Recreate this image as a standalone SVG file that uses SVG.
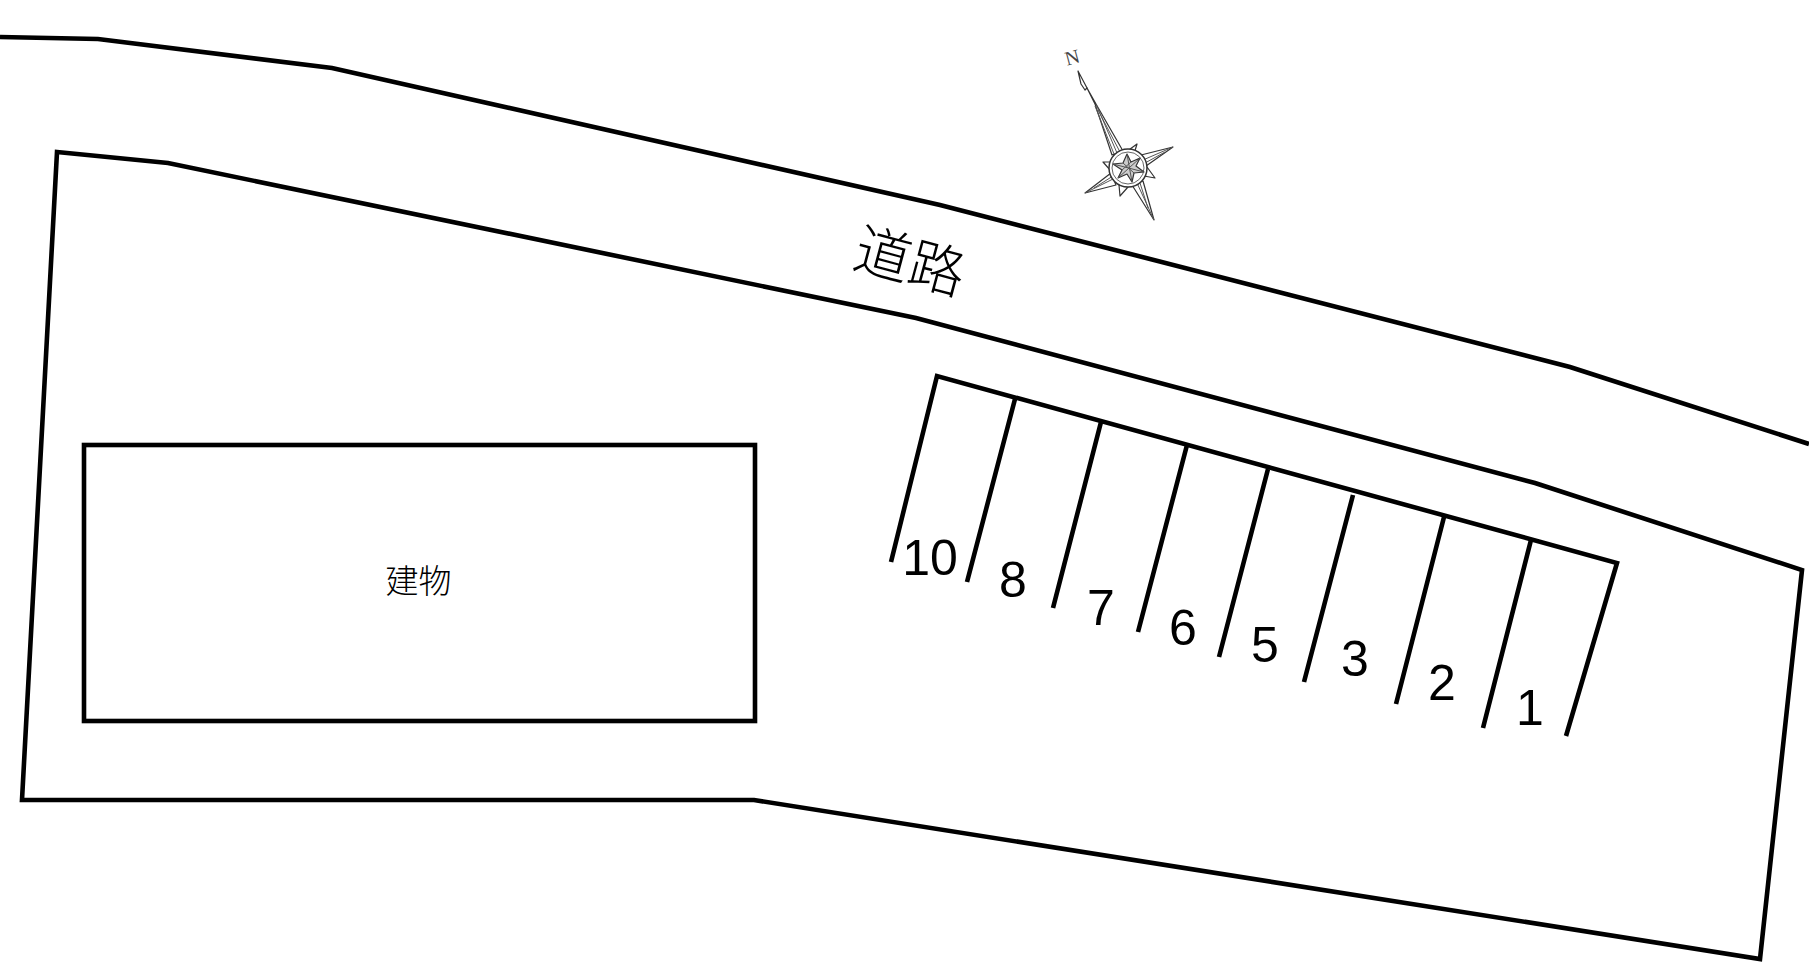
<svg xmlns="http://www.w3.org/2000/svg" width="1809" height="980" viewBox="0 0 1809 980">
<style>
.l{fill:none;stroke:#000;stroke-width:4.6}
.n{font-family:"Liberation Sans",Arial,sans-serif;font-size:50px;text-anchor:middle;fill:#000}
.j{font-family:"Noto Sans CJK JP","Noto Sans CJK SC",sans-serif;text-anchor:middle;fill:#000;font-weight:300}
.c{fill:#fff;stroke:#333;stroke-width:1.2;stroke-linejoin:round}
.d{fill:none;stroke:#555;stroke-width:1}
</style>
<rect width="1809" height="980" fill="#fff"/>
<g id="road"><polyline class="l" points="0,37 98,39 332,68 940,205 1570,367 1809,444"/></g>
<g id="site"><polygon class="l" points="57,152 168,163 916,318 1535,483 1802,570 1760,959 754,800 22,800"/></g>
<g id="building"><rect class="l" x="84" y="445" width="671" height="276"/><text class="j" x="418.500" y="593" font-size="33">建物</text></g>
<g id="road-label"><text class="j" font-size="56" transform="translate(905 281) rotate(15)">道路</text></g>
<g id="parking">
<polyline class="l" points="891,562 937,376 1617,563 1566,736"/>
<path class="l" d="M1015,399L967,582M1101,422L1053,608M1187,445L1138,632M1268,469L1219,657M1353,495L1304,682M1444,517L1396,704M1531,540L1483,728"/>
<text class="n" x="930" y="575">10</text>
<text class="n" x="1013" y="597">8</text>
<text class="n" x="1101" y="625">7</text>
<text class="n" x="1183" y="645">6</text>
<text class="n" x="1265" y="662">5</text>
<text class="n" x="1355" y="676">3</text>
<text class="n" x="1442" y="700">2</text>
<text class="n" x="1530" y="725">1</text>
</g>
<g id="compass">
<text font-family="Liberation Serif,serif" font-size="20" text-anchor="middle" fill="#444" transform="translate(1074 64) rotate(-15)">N</text>
<path class="c" d="M1078,71L1087,88L1085,90L1081,84Z"/>
<path class="c" d="M1087,88L1096,104L1123,151L1112,155L1095,104Z"/>
<path class="d" d="M1096,104L1117,153M1098,110L1120,152M1095,106L1114,154"/>
<path class="c" d="M1173,147L1146,166L1141,155Z"/>
<path class="d" d="M1173,147L1143,160M1165,152L1145,163"/>
<path class="c" d="M1085,193L1111,173L1116,185Z"/>
<path class="d" d="M1085,193L1113,179M1094,188L1113,176"/>
<path class="c" d="M1154,220L1132,185L1143,181Z"/>
<path class="d" d="M1154,220L1137,183M1148,208L1140,183"/>
<path class="c" d="M1137,144L1134,154L1126,152Z"/>
<path class="c" d="M1155,178L1144,176L1147,167Z"/>
<path class="c" d="M1120,196L1119,185L1128,187Z"/>
<path class="c" d="M1103,162L1114,162L1111,171Z"/>
<circle cx="1128" cy="168" r="19" fill="#fff" stroke="#333" stroke-width="1.5"/>
<circle cx="1128" cy="168" r="16" fill="none" stroke="#666" stroke-width="1"/>
<path fill="#ccc" stroke="#333" stroke-width="1.2" stroke-linejoin="round" d="M1127,154L1131,162L1140,158L1136,166L1144,172L1134,173L1132,182L1127,174L1118,178L1122,170L1113,164L1123,163Z"/>
<path class="d" d="M1127,154L1132,182M1113,164L1144,172M1140,158L1118,178M1123,163L1134,173M1131,162L1122,170"/>
</g>
</svg>
